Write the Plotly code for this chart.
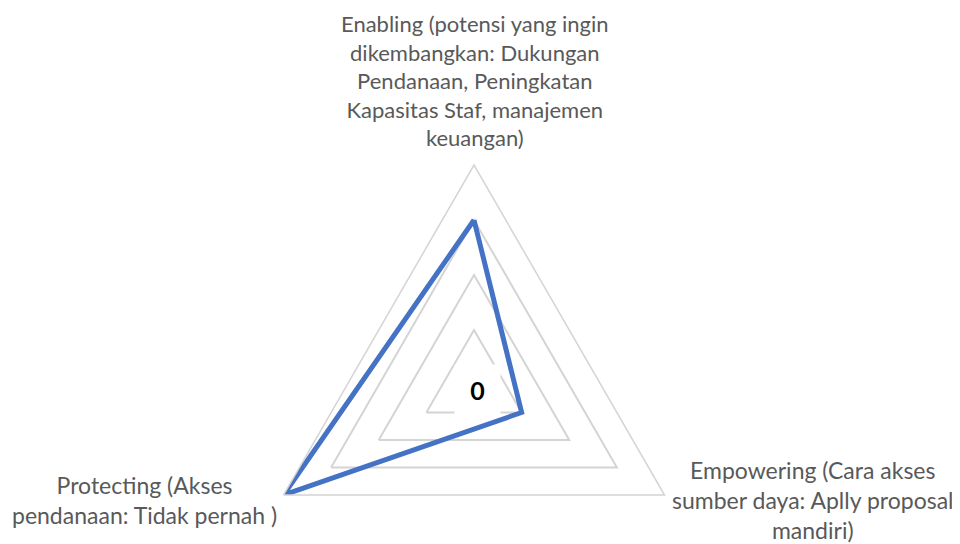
import plotly.graph_objects as go

# radar data
categories = ["Enabling", "Empowering", "Protecting"]
values = [3, 1, 4]
grid_levels = [1, 2, 3, 4]
center_label = "0"

label_enabling = ("Enabling (potensi yang ingin<br>dikembangkan: Dukungan<br>"
                  "Pendanaan, Peningkatan<br>Kapasitas Staf, manajemen<br>keuangan)")
label_empowering = "Empowering (Cara akses<br>sumber daya: Aplly proposal<br>mandiri)"
label_protecting = "Protecting (Akses<br>pendanaan: Tidak pernah )"

# ========================

W, H = 960, 620  # polar circle needs room below the triangle; the extra strip is empty
OFF = 8          # page body margin shifts the figure by 8px
GRID = "#d4d4d4"
TEXT = "#595959"
FONT = "Lato, Open Sans, sans-serif"


def px(x):
    return (x - OFF) / W


def py(y):
    return 1 - (y - OFF) / H


fig = go.Figure()
fig.add_trace(go.Scatterpolar(
    r=values + values[:1],
    theta=categories + categories[:1],
    mode="lines",
    line=dict(color="#4472c4", width=5),
    hoverinfo="skip",
    showlegend=False,
))

fig.update_layout(
    width=W, height=H,
    margin=dict(l=0, r=0, t=0, b=0),
    paper_bgcolor="white",
    font=dict(family=FONT, color=TEXT),
    polar=dict(
        domain=dict(x=[px(254), px(694)], y=[py(605), py(165)]),
        bgcolor="white",
        gridshape="linear",
        radialaxis=dict(range=[0, 4], tickvals=grid_levels, showticklabels=False,
                        ticks="", showline=False, gridcolor=GRID, gridwidth=1.5),
        angularaxis=dict(type="category", rotation=90, direction="clockwise",
                         showgrid=False, showticklabels=False, ticks="",
                         showline=True, linecolor=GRID, linewidth=1.5),
    ),
)

lab = dict(xref="paper", yref="paper", showarrow=False, align="center",
           xanchor="center", yanchor="middle")
fig.add_annotation(text=label_enabling, x=px(475), y=py(81),
                   font=dict(family=FONT, size=22, color=TEXT), **lab)
fig.add_annotation(text=label_empowering, x=px(813), y=py(500),
                   font=dict(family=FONT, size=23, color=TEXT), **lab)
fig.add_annotation(text=label_protecting, x=px(144), y=py(500),
                   font=dict(family=FONT, size=23, color=TEXT), **lab)

fig.add_annotation(text="<b>" + center_label + "</b>", xref="paper", yref="paper",
                   x=px(477), y=py(390), xanchor="center", yanchor="middle",
                   showarrow=False, bgcolor="white", width=41, height=46, borderpad=2,
                   font=dict(family=FONT, size=25, color="black"))

fig.write_html("out.html")
